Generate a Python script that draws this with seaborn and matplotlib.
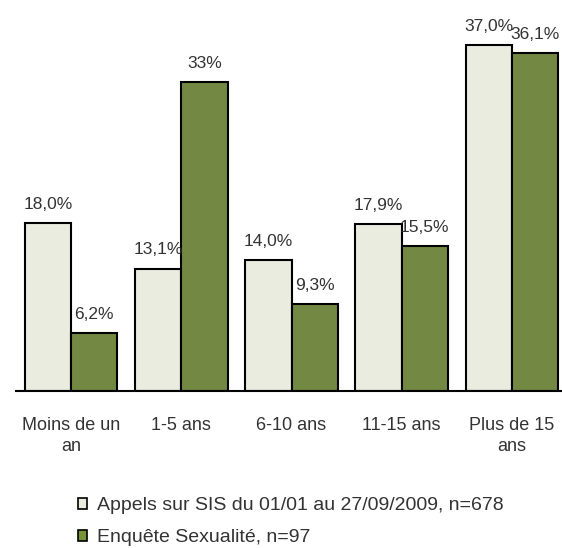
import matplotlib
matplotlib.use("Agg")
import matplotlib.pyplot as plt
import matplotlib.patches as mpatches
import seaborn as sns
import pandas as pd
import numpy as np

categories = ["Moins de un\nan", "1-5 ans", "6-10 ans", "11-15 ans", "Plus de 15\nans"]
series_names = ["Appels sur SIS du 01/01 au 27/09/2009, n=678", "Enquête Sexualité, n=97"]
appels = [18.0, 13.1, 14.0, 17.9, 37.0]
enquete = [6.2, 33.0, 9.3, 15.5, 36.1]
labels_appels = ["18,0%", "13,1%", "14,0%", "17,9%", "37,0%"]
labels_enquete = ["6,2%", "33%", "9,3%", "15,5%", "36,1%"]
colors = ["#EBEEDD", "#779438"]

df = pd.DataFrame({
    "cat": categories * 2,
    "val": appels + enquete,
    "serie": [series_names[0]] * 5 + [series_names[1]] * 5,
})

sns.set_style("white")
plt.rcParams["font.family"] = ["Liberation Sans", "DejaVu Sans"]
text_color = "#333333"

fig = plt.figure(figsize=(5.62, 5.48), dpi=100)
ax = fig.add_axes([16 / 562, 157 / 548, 551 / 562, 374 / 548])

sns.barplot(data=df, x="cat", y="val", hue="serie", palette=colors,
            edgecolor="black", linewidth=1.5, width=0.84, gap=0,
            legend=False, ax=ax)

ax.set_ylim(0, 40)
ax.set_xlim(-0.5, 4.5)
ax.set_xlabel("")
ax.set_ylabel("")
ax.set_yticks([])
for s in ["top", "right", "left"]:
    ax.spines[s].set_visible(False)
ax.spines["bottom"].set_linewidth(1.5)
ax.spines["bottom"].set_color("black")

ax.set_xticks(range(5))
ax.set_xticklabels(categories, fontsize=13, color=text_color, linespacing=1.25)
ax.tick_params(axis="x", which="major", length=0, pad=19)
ax.set_xticks(np.arange(-0.5, 5.0, 1.0), minor=True)
ax.tick_params(axis="x", which="minor", length=6, width=1.5, color="black",
               direction="out")

for container, labs in zip(ax.containers, [labels_appels, labels_enquete]):
    for bar, lab in zip(container, labs):
        ax.annotate(lab, (bar.get_x() + bar.get_width() / 2, bar.get_height()),
                    xytext=(0, 8), textcoords="offset points",
                    ha="center", va="bottom", fontsize=12.5, color=text_color)

handles = [mpatches.Patch(facecolor=c, edgecolor="black", linewidth=1.2)
           for c in colors]
fig.legend(handles, series_names, loc="upper left",
           bbox_to_anchor=(60 / 562, 1 - 480 / 548), frameon=False,
           fontsize=14, handlelength=0.5, handleheight=0.5,
           handletextpad=0.5, labelspacing=0.75, labelcolor=text_color)

fig.savefig("out.png", dpi=100)
